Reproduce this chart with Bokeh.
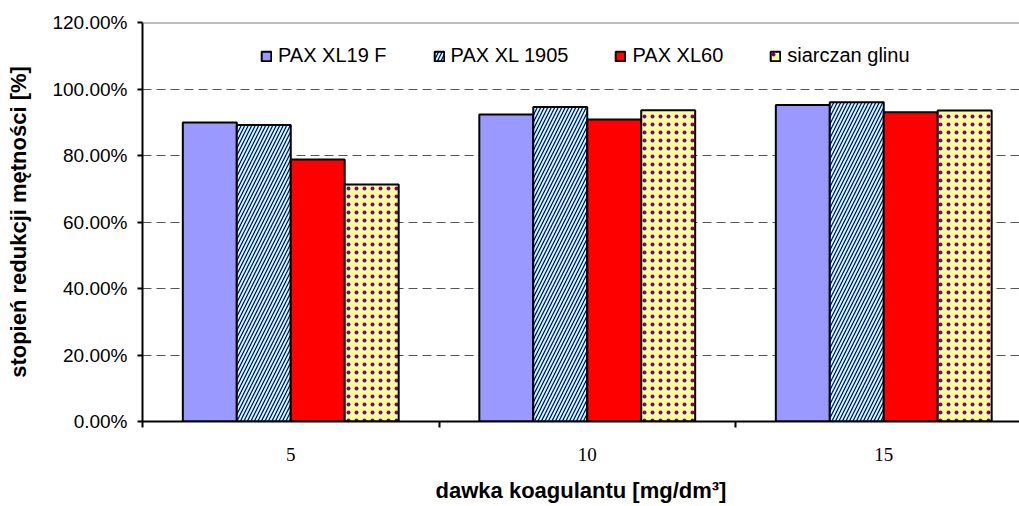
from bokeh.plotting import figure
from bokeh.models import FixedTicker, NumeralTickFormatter, Legend, LegendItem, Span
from bokeh.embed import file_html
from bokeh.resources import INLINE

# ---- data ----
doses = ["5", "10", "15"]
series_names = ["PAX XL19 F", "PAX XL 1905", "PAX XL60", "siarczan glinu"]
pax_xl19f = [0.899, 0.923, 0.952]
pax_xl1905 = [0.892, 0.946, 0.960]
pax_xl60 = [0.788, 0.908, 0.930]
siarczan_glinu = [0.713, 0.936, 0.935]
y_ticks = [0.0, 0.2, 0.4, 0.6, 0.8, 1.0, 1.2]

series_values = [pax_xl19f, pax_xl1905, pax_xl60, siarczan_glinu]

# ---- styles ----
styles = [
    dict(fill_color="#9999FF"),
    dict(fill_color="#CCFFFF", hatch_pattern="/", hatch_color="#000080", hatch_scale=7, hatch_weight=1.2),
    dict(fill_color="#FF0000"),
    dict(fill_color="#FFFF99", hatch_pattern=".", hatch_color="#800080", hatch_scale=8, hatch_weight=0.6),
]

n_cat = len(doses)
frame_left, frame_right_px = 142, 1019
cat_px = 296.5
x_end = (frame_right_px - frame_left) / cat_px

p = figure(width=1019, height=506, x_range=(0, x_end), y_range=(y_ticks[0], y_ticks[-1]),
           output_backend="svg", toolbar_location=None,
           min_border_left=142, min_border_right=0, min_border_top=22, min_border_bottom=85)
p.background_fill_color = "white"
p.border_fill_color = "white"
p.outline_line_color = None

bar_w = 0.182
n_ser = len(series_names)
centers = [i + 0.5 for i in range(n_cat)]
renderers = []
for k, (vals, st) in enumerate(zip(series_values, styles)):
    off = (k - (n_ser - 1) / 2) * bar_w
    xs = [c + off for c in centers]
    r = p.vbar(x=xs, top=vals, bottom=0, width=bar_w, line_color="black", line_width=2, **st)
    renderers.append(r)

# top border at 120%
p.add_layout(Span(location=y_ticks[-1], dimension="width", line_color="#808080", line_width=2))

# grid
p.xgrid.visible = False
p.ygrid.ticker = FixedTicker(ticks=y_ticks[1:-1])
p.ygrid.grid_line_color = "#555555"
p.ygrid.grid_line_dash = "9 5"
p.ygrid.grid_line_width = 1

# y axis
ya = p.yaxis[0]
ya.ticker = FixedTicker(ticks=y_ticks)
ya.formatter = NumeralTickFormatter(format="0.00%")
ya.axis_line_color = "black"
ya.axis_line_width = 2
ya.major_tick_line_color = "black"
ya.major_tick_line_width = 2
ya.major_tick_out = 5
ya.major_tick_in = 0
ya.minor_tick_line_color = None
ya.major_label_standoff = 10
ya.major_label_text_font = "Liberation Sans"
ya.major_label_text_font_size = "19px"
ya.major_label_text_color = "black"
ya.axis_label = "stopień redukcji mętności [%]"
ya.axis_label_text_font = "Liberation Sans"
ya.axis_label_text_font_style = "bold"
ya.axis_label_text_font_size = "22px"
ya.axis_label_text_color = "black"
ya.axis_label_standoff = 18

# x axis
xa = p.xaxis[0]
xa.ticker = FixedTicker(ticks=centers, minor_ticks=list(range(n_cat + 1)))
xa.major_label_overrides = {c: d for c, d in zip(centers, doses)}
xa.axis_line_color = "black"
xa.axis_line_width = 2
xa.major_tick_out = 0
xa.major_tick_in = 0
xa.major_tick_line_color = None
xa.minor_tick_line_color = "black"
xa.minor_tick_line_width = 2
xa.minor_tick_out = 6
xa.minor_tick_in = 0
xa.major_label_standoff = 20
xa.major_label_text_font = "Liberation Serif"
xa.major_label_text_font_size = "19px"
xa.major_label_text_color = "black"
xa.axis_label = "dawka koagulantu [mg/dm³]"
xa.axis_label_text_font = "Liberation Sans"
xa.axis_label_text_font_style = "bold"
xa.axis_label_text_font_size = "22px"
xa.axis_label_text_color = "black"
xa.axis_label_standoff = 14

legend = Legend(
    items=[LegendItem(label=nm, renderers=[r]) for nm, r in zip(series_names, renderers)],
    location=(118, 354), orientation="horizontal",
    padding=0, margin=0, spacing=46, label_standoff=6,
    glyph_width=12, glyph_height=12, label_height=20,
    border_line_color=None, background_fill_alpha=0,
    label_text_font="Liberation Sans", label_text_font_size="20px", label_text_color="black",
)
p.add_layout(legend)

open("out.html", "w").write(file_html(p, INLINE))
